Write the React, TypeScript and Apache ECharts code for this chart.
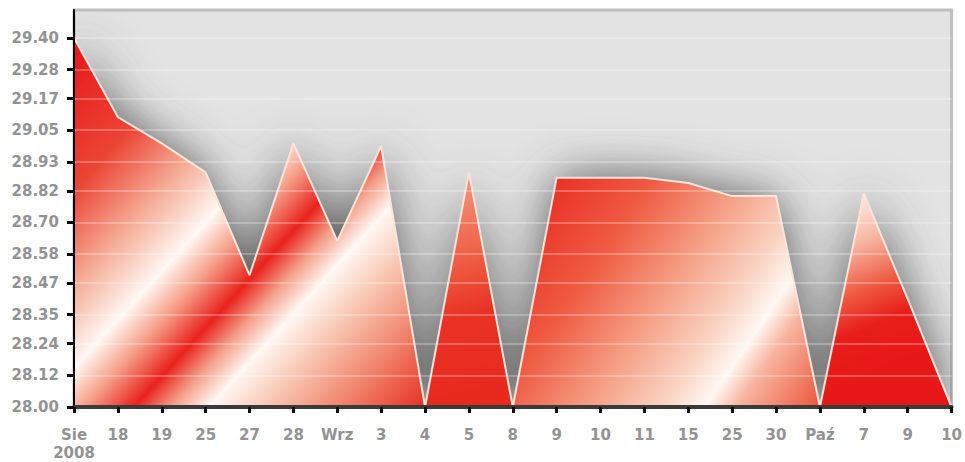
import React, { useEffect, useRef } from "react";
import * as echarts from "echarts";

const xLabels = ["Sie\n2008", "18", "19", "25", "27", "28", "Wrz", "3", "4", "5", "8", "9", "10", "11", "15", "25", "30", "Paź", "7", "9", "10"];
const values = [29.40, 29.10, 29.00, 28.89, 28.50, 29.00, 28.63, 28.99, 28.00, 28.89, 28.00, 28.87, 28.87, 28.87, 28.85, 28.80, 28.80, 28.00, 28.81, 28.41, 28.00];
const yTickLabels = ["28.00", "28.12", "28.24", "28.35", "28.47", "28.58", "28.70", "28.82", "28.93", "29.05", "29.17", "29.28", "29.40"];
// index ranges of the filled pieces (between points touching the base)
const segments = [[0, 8], [8, 10], [10, 17], [17, 20]];

const segGradients = [
  { x: 74, y: 38, x2: 452, y2: 380, stops: [[0, "#e8161a"], [0.2, "#ec4434"], [0.33, "#f5ad98"], [0.435, "#fff8f4"], [0.5, "#f5a08a"], [0.573, "#e9221c"], [0.627, "#f3a08a"], [0.682, "#fff8f4"], [0.765, "#f8c6b2"], [0.88, "#f07e66"], [1, "#e82c22"]] },
  { x: 440, y: 172, x2: 500, y2: 408, stops: [[0, "#f59c82"], [0.35, "#ef6248"], [0.6, "#e93226"], [1, "#e8281c"]] },
  { x: 514, y: 178, x2: 830, y2: 393, stops: [[0, "#e81e18"], [0.3, "#ef5a42"], [0.5, "#f5a086"], [0.66, "#fad4c4"], [0.75, "#fff8f4"], [0.82, "#f7b4a0"], [1, "#ec5438"]] },
  { x: 835, y: 195, x2: 905, y2: 360, stops: [[0, "#fff6f0"], [0.3, "#f7b6a2"], [0.55, "#ee5a42"], [0.75, "#e81e1a"], [1, "#e81818"]] },
];

export default function App() {
  const ref = useRef<HTMLDivElement>(null);
  useEffect(() => {
    if (!ref.current) return;
    const chart = echarts.init(ref.current, null, { renderer: "svg" });
    const yTickValues = yTickLabels.map(Number);
    const labelFont = { color: "#939393", fontSize: 15, fontWeight: "bold", fontFamily: "DejaVu Sans" };

    const segSeries = segments.map(([a, b], i) => {
      const g = segGradients[i];
      return {
        type: "line",
        z: 3,
        symbol: "none",
        data: values.map((v, k) => (k >= a && k <= b ? v : null)),
        lineStyle: { color: "#fde4d8", width: 2 },
        areaStyle: {
          origin: "start",
          opacity: 1,
          color: {
            type: "linear", global: true, x: g.x, y: g.y, x2: g.x2, y2: g.y2,
            colorStops: g.stops.map(([o, c]) => ({ offset: o, color: c })),
          },
        },
      };
    });

    chart.setOption({
      animation: false,
      grid: {
        left: 74, right: 13, top: 10, bottom: 54,
        show: true, backgroundColor: "#e3e3e3", borderColor: "#bfbfbf", borderWidth: 3,
      },
      xAxis: {
        type: "category",
        boundaryGap: false,
        data: xLabels,
        z: 10,
        axisLine: { lineStyle: { color: "#3a3a3a", width: 4 } },
        axisTick: { length: 6, lineStyle: { color: "#111", width: 3 } },
        axisLabel: { ...labelFont, interval: 0, margin: 19, lineHeight: 18 },
        splitLine: { show: false },
      },
      yAxis: {
        type: "value",
        min: 28,
        max: 29.506,
        interval: 1.4 / 12,
        z: 10,
        axisLine: { show: true, lineStyle: { color: "#000", width: 2 } },
        axisTick: { show: true, length: 7, customValues: yTickValues, lineStyle: { color: "#000", width: 3 } },
        axisLabel: {
          ...labelFont,
          margin: 15,
          customValues: yTickValues,
          formatter: (v: number) => {
            const i = yTickValues.findIndex((t) => Math.abs(t - v) < 1e-6);
            return i >= 0 ? yTickLabels[i] : "";
          },
        },
        splitLine: { show: true, lineStyle: { color: "rgba(255,255,255,0.35)", width: 1.5 } },
      },
      series: [
        {
          type: "line",
          z: 1,
          symbol: "none",
          data: values,
          lineStyle: { width: 0, opacity: 0 },
          areaStyle: {
            origin: "start",
            color: "#8a8a8a",
            opacity: 1,
            shadowBlur: 50,
            shadowColor: "rgba(70,70,70,0.9)",
          },
        },
        ...segSeries,
      ],
    });
    return () => chart.dispose();
  }, []);
  return <div ref={ref} style={{ position: "absolute", left: 0, top: 0, width: 965, height: 462 }} />;
}
